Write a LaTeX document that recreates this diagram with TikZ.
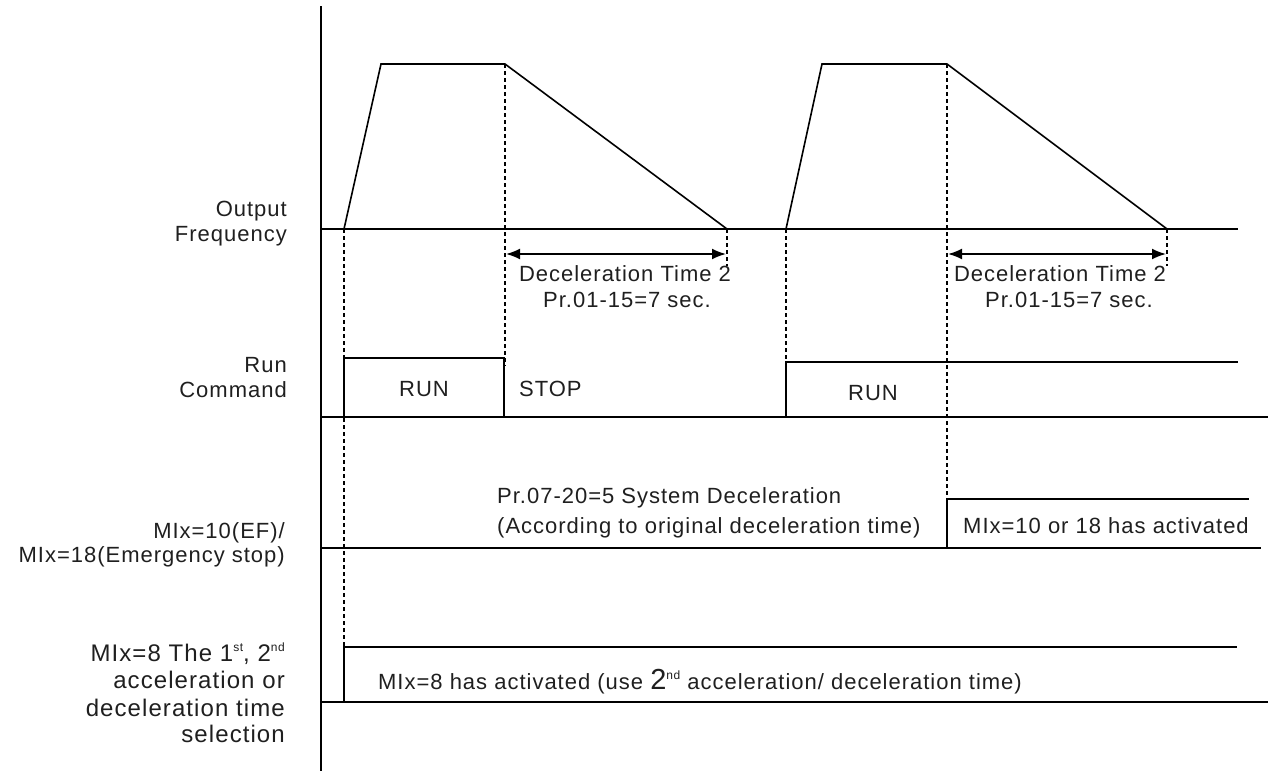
\documentclass[tikz,border=0pt]{standalone}
\usepackage{fontspec}
\setmainfont{Liberation Sans}
\usetikzlibrary{arrows.meta}
\newcommand\fsn{\fontsize{22}{25}\selectfont\addfontfeature{LetterSpace=4.5}}
\newcommand\fsb{\fontsize{24}{27}\selectfont\addfontfeature{LetterSpace=4.5}}
\newcommand\supx[1]{\raisebox{10pt}{\fontsize{12}{12}\selectfont #1}}
\begin{document}
\begin{tikzpicture}[x=1pt,y=-1pt,
  wave/.style={line width=1.6pt, line join=miter},
  dotline/.style={line width=2.2pt, dash pattern=on 4pt off 3pt},
  dimarrow/.style={line width=1.8pt, {Latex[length=14pt,width=11pt]}-{Latex[length=14pt,width=11pt]}},
  txt/.style={inner sep=0pt, font=\fsn, text=black!88},
  lbl/.style={inner sep=0pt, font=\fsn, anchor=base east, text=black!88},
  lblb/.style={inner sep=0pt, font=\fsb, anchor=base east, text=black!88}]
\useasboundingbox (0,0) rectangle (1268,771);
% axis
\coordinate (axT) at (321,6);
\coordinate (axB) at (321,771);
\draw[wave] (axT) -- (axB);
% --- output frequency
\coordinate (ofL) at (321,229);
\coordinate (ofR) at (1238,229);
\coordinate (a0) at (344,229); \coordinate (a1) at (381,64); \coordinate (a2) at (505,64); \coordinate (a3) at (727,229);
\coordinate (b0) at (786,229); \coordinate (b1) at (822,64); \coordinate (b2) at (947,64); \coordinate (b3) at (1167,229);
% --- run command
\coordinate (rL) at (321,417); \coordinate (rR) at (1268,417);
\coordinate (r0) at (344,417); \coordinate (r1) at (344,358); \coordinate (r2) at (504,358); \coordinate (r3) at (504,417);
\coordinate (s0) at (786,417); \coordinate (s1) at (786,362); \coordinate (s2) at (1238,362);
% --- MIx=10/18
\coordinate (eL) at (321,548); \coordinate (eR) at (1261,548);
\coordinate (e0) at (947,548); \coordinate (e1) at (947,499); \coordinate (e2) at (1249,499);
% --- MIx=8
\coordinate (mL) at (321,702); \coordinate (mR) at (1268,702);
\coordinate (m0) at (344,702); \coordinate (m1) at (344,647); \coordinate (m2) at (1237,647);
% dotted guides
\coordinate (d1e) at (505,366);
\coordinate (d2e) at (727,266);
\coordinate (d3e) at (1167,266);
\draw[dotline] (a0) -- (m1);
\draw[dotline] (a2) -- (d1e);
\draw[dotline] (a3) -- (d2e);
\draw[dotline] (b0) -- (s1);
\draw[dotline] (b2) -- (e1);
\draw[dotline] (b3) -- (d3e);
% waveforms
\draw[wave] (ofL) -- (ofR);
\draw[wave] (a0) -- (a1) -- (a2) -- (a3);
\draw[wave] (b0) -- (b1) -- (b2) -- (b3);
\draw[wave] (rL) -- (rR);
\draw[wave] (r0) -- (r1) -- (r2) -- (r3);
\draw[wave] (s0) -- (s1) -- (s2);
\draw[wave] (eL) -- (eR);
\draw[wave] (e0) -- (e1) -- (e2);
\draw[wave] (mL) -- (mR);
\draw[wave] (m0) -- (m1) -- (m2);
% dimension arrows
\coordinate (da1) at (506,254); \coordinate (da2) at (726,254);
\coordinate (db1) at (948,254); \coordinate (db2) at (1166,254);
\draw[dimarrow] (da1) -- (da2);
\draw[dimarrow] (db1) -- (db2);
\node[txt, anchor=base] (dt1) at (625,281) {Deceleration Time 2};
\node[txt, anchor=base] (pr1) at (627,307) {Pr.01-15=7 sec.};
\node[txt, anchor=base] (dt2) at (1060,281) {Deceleration Time 2};
\node[txt, anchor=base] (pr2) at (1069,307) {Pr.01-15=7 sec.};
% run texts
\node[txt, anchor=base] (run1) at (424,396) {RUN};
\node[txt, anchor=base west] (stop) at (519,396) {STOP};
\node[txt, anchor=base] (run2) at (873,400) {RUN};
% MIx=10 texts
\node[txt, anchor=base west] (pr7a) at (497,503) {Pr.07-20=5 System Deceleration};
\node[txt, anchor=base west] (pr7b) at (497,533) {(According to original deceleration time)};
\node[txt, anchor=base west] (mi10) at (963,533) {MIx=10 or 18 has activated};
% MIx=8 text
\node[txt, anchor=base west] (mi8) at (378,689) {MIx=8 has activated (use {\fontsize{29}{29}\selectfont 2}\supx{nd} acceleration/ deceleration time)};
% left labels
\node[lbl] (l1a) at (287,216) {Output};
\node[lbl] (l1b) at (287,241) {Frequency};
\node[lbl] (l2a) at (287,372) {Run};
\node[lbl] (l2b) at (287,397) {Command};
\node[lbl] (l3a) at (285,538) {MIx=10(EF)/};
\node[lbl] (l3b) at (285,562) {MIx=18(Emergency stop)};
\node[lblb] (l4a) at (285,661) {MIx=8 The 1\supx{st}, 2\supx{nd}};
\node[lblb] (l4b) at (285,688) {acceleration or};
\node[lblb] (l4c) at (285,716) {deceleration time};
\node[lblb] (l4d) at (285,742) {selection};
\end{tikzpicture}
\end{document}
